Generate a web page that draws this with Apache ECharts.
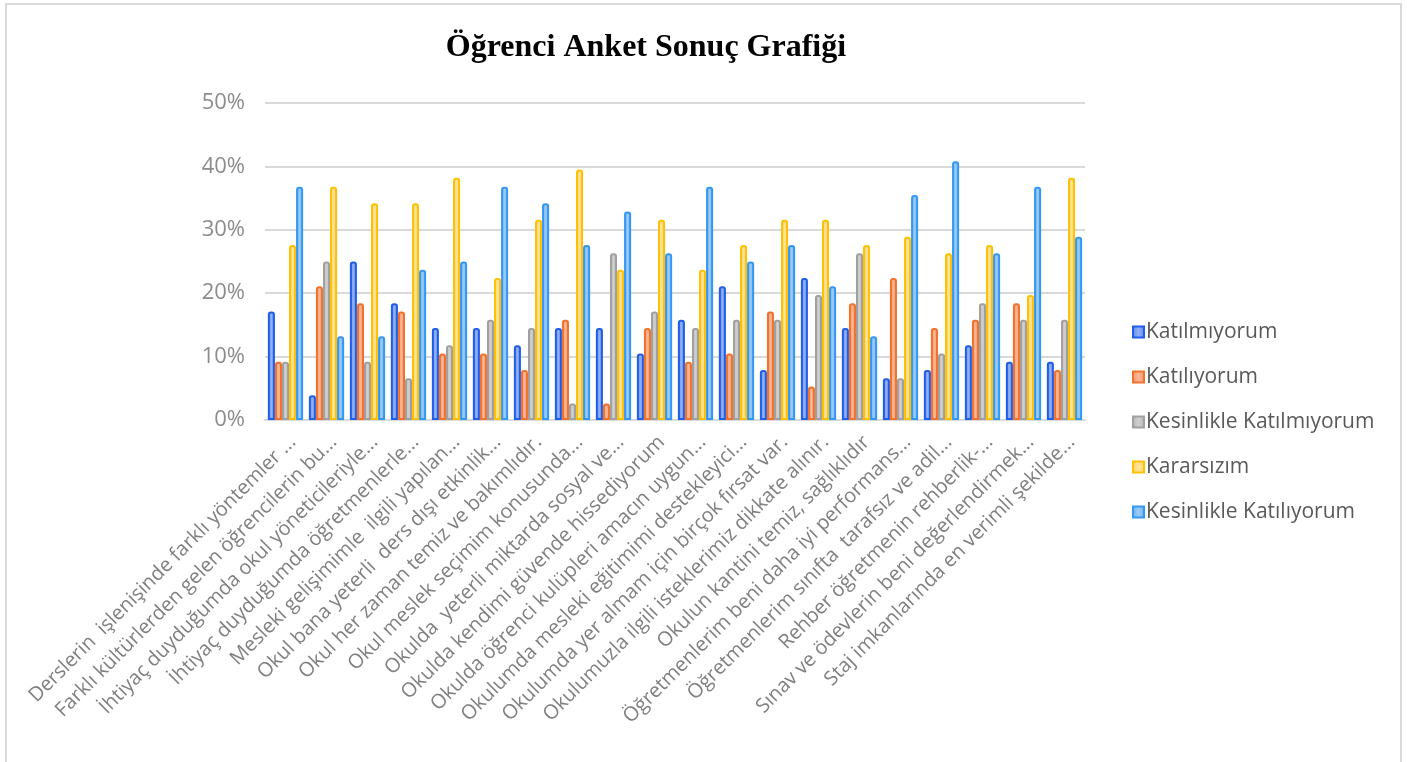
<!DOCTYPE html>
<html>
<head>
<meta charset="utf-8">
<script src="https://cdn.jsdelivr.net/npm/echarts@6/dist/echarts.min.js"></script>
<style>
html,body{margin:0;padding:0;background:#fff;}
#chart{width:1407px;height:762px;}
</style>
</head>
<body>
<div id="chart"></div>
<script>
const categories = [
  "Derslerin  işlenişinde farklı yöntemler ...",
  "Farklı kültürlerden gelen öğrencilerin bu...",
  "İhtiyaç duyduğumda okul yöneticileriyle...",
  "İhtiyaç duyduğumda öğretmenlerle...",
  "Mesleki gelişimimle  ilgili yapılan...",
  "Okul bana yeterli  ders dışı etkinlik...",
  "Okul her zaman temiz ve bakımlıdır.",
  "Okul meslek seçimim konusunda...",
  "Okulda  yeterli miktarda sosyal ve...",
  "Okulda kendimi güvende hissediyorum",
  "Okulda öğrenci kulüpleri amacın uygun...",
  "Okulumda mesleki eğitimimi destekleyici...",
  "Okulumda yer almam için birçok fırsat var.",
  "Okulumuzla ilgili isteklerimiz dikkate alınır.",
  "Okulun kantini temiz, sağlıklıdır",
  "Öğretmenlerim beni daha iyi performans...",
  "Öğretmenlerim sınıfta  tarafsız ve adil...",
  "Rehber öğretmenin rehberlik-...",
  "Sınav ve ödevlerin beni değerlendirmek...",
  "Staj imkanlarında en verimli şekilde..."
];
const seriesNames = ["Katılmıyorum","Katılıyorum","Kesinlikle Katılmıyorum","Kararsızım","Kesinlikle Katılıyorum"];
const katilmiyorum = [17.1,3.9,25.0,18.4,14.5,14.5,11.8,14.5,14.5,10.5,15.8,21.1,7.9,22.4,14.5,6.6,7.9,11.8,9.2,9.2];
const katiliyorum = [9.2,21.1,18.4,17.1,10.5,10.5,7.9,15.8,2.6,14.5,9.2,10.5,17.1,5.3,18.4,22.4,14.5,15.8,18.4,7.9];
const kesinlikleKatilmiyorum = [9.2,25.0,9.2,6.6,11.8,15.8,14.5,2.6,26.3,17.1,14.5,15.8,15.8,19.7,26.3,6.6,10.5,18.4,15.8,15.8];
const kararsizim = [27.6,36.8,34.2,34.2,38.2,22.4,31.6,39.5,23.7,31.6,23.7,27.6,31.6,31.6,27.6,28.9,26.3,27.6,19.7,38.2];
const kesinlikleKatiliyorum = [36.8,13.2,13.2,23.7,25.0,36.8,34.2,27.6,32.9,26.3,36.8,25.0,27.6,21.1,13.2,35.5,40.8,26.3,36.8,28.9];
const yTicks = [0,10,20,30,40,50];

const seriesData = [katilmiyorum,katiliyorum,kesinlikleKatilmiyorum,kararsizim,kesinlikleKatiliyorum];
const strokes = ["#1f5ee8","#f2712c","#a0a0a0","#ffc000","#3497f2"];
const fillsEdge = ["#5f86ec","#f59466","#b5b5b5","#ffd466","#6aaff5"];
const fillsMid = ["#93b0f4","#f9b796","#cfcfcf","#ffe39c","#9ccbf9"];

const chart = echarts.init(document.getElementById('chart'));
const series = seriesNames.map((n,i)=>({
  name:n,
  type:'bar',
  data:seriesData[i],
  barGap:'0%',
  barCategoryGap:'14%',
  itemStyle:{
    color:new echarts.graphic.LinearGradient(0,0,1,0,[
      {offset:0,color:fillsEdge[i]},{offset:0.5,color:fillsMid[i]},{offset:1,color:fillsEdge[i]}
    ]),
    borderColor:strokes[i],
    borderWidth:2,
    borderRadius:[2,2,0,0]
  },
  emphasis:{disabled:true}
}));

chart.setOption({
  animation:false,
  backgroundColor:'#fff',
  title:{
    text:'Öğrenci Anket Sonuç Grafiği',
    left:641, top:27, textAlign:'center',
    textStyle:{fontFamily:'Liberation Serif',fontWeight:'bold',fontSize:32,color:'#000'}
  },
  grid:{left:265,right:322,top:103,bottom:342,containLabel:false},
  legend:{
    orient:'vertical',
    left:1127, top:316,
    itemWidth:11, itemHeight:11, itemGap:23,
    icon:'rect',
    data:seriesNames,
    textStyle:{fontFamily:'Open Sans',fontSize:21,color:'#595959',lineHeight:22,padding:[0,0,0,-3]}
  },
  xAxis:{
    type:'category',
    data:categories,
    axisLine:{show:true,lineStyle:{color:'#d9d9d9',width:2}},
    axisTick:{show:false},
    axisLabel:{
      interval:0, rotate:45, margin:12, verticalAlign:'top',
      fontFamily:'Open Sans', fontSize:20, color:'#808080'
    }
  },
  yAxis:{
    type:'value',
    min:0, max:50, interval:10,
    axisLine:{show:false},
    axisTick:{show:false},
    splitLine:{lineStyle:{color:'#d9d9d9',width:2}},
    axisLabel:{
      margin:20,
      formatter:v=>yTicks.includes(v)? v+'%':'',
      fontFamily:'Open Sans', fontSize:22, color:'#8c8c8c'
    }
  },
  graphic:[
    {type:'polyline',shape:{points:[[6,762],[6,4],[1401,4],[1401,762]]},style:{stroke:'#d9d9d9',lineWidth:2,fill:null},silent:true}
  ],
  series:series
});
</script>
</body>
</html>
